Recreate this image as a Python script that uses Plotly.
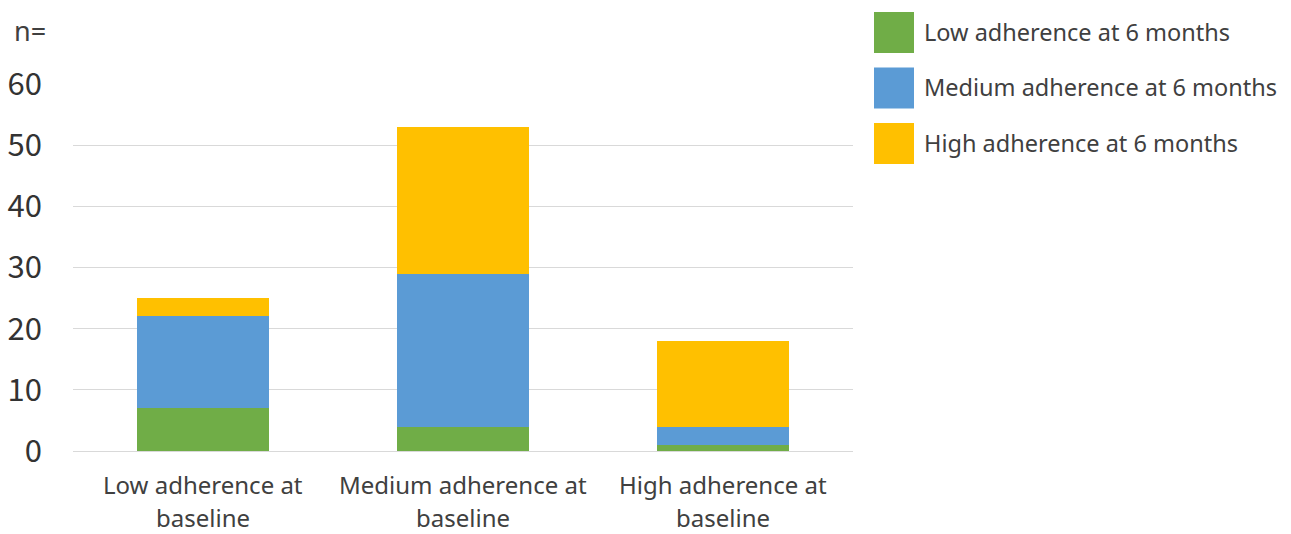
import plotly.graph_objects as go

# Baseline adherence groups (x categories), written as two display lines each
categories = ["Low adherence at baseline", "Medium adherence at baseline", "High adherence at baseline"]
category_lines = [("Low adherence at", "baseline"),
                  ("Medium adherence at", "baseline"),
                  ("High adherence at", "baseline")]

# Counts at 6 months per baseline group
low_6m = [7, 4, 1]
medium_6m = [15, 25, 3]
high_6m = [3, 24, 14]

series_names = ["Low adherence at 6 months", "Medium adherence at 6 months", "High adherence at 6 months"]
series_values = [low_6m, medium_6m, high_6m]
series_colors = ["#70AD47", "#5B9BD5", "#FFC000"]

y_ticks = [0, 10, 20, 30, 40, 50, 60]

CJK = "Noto Sans CJK JP"
SANS = "Noto Sans"
TEXT = "#404040"

# Plot area in pixels: x 73..853, y 84..451
L, R, T, B = 73, 853, 84, 451
W, H = R - L, B - T


def px_x(x):
    return (x - L) / W


def px_y(y):
    return (B - y) / H


fig = go.Figure()
for name, vals, color in zip(series_names, series_values, series_colors):
    fig.add_trace(go.Bar(
        x=categories, y=vals, name=name,
        marker=dict(color=color, line=dict(width=0)),
        showlegend=False,
    ))

# Category labels, two lines under each bar
for cat, (line1, line2) in zip(categories, category_lines):
    for text, yc in ((line1, 484), (line2, 517)):
        fig.add_annotation(xref="x", yref="paper", x=cat, y=px_y(yc),
                           text=text, showarrow=False,
                           xanchor="center", yanchor="middle",
                           font=dict(family=SANS, size=24, color=TEXT))

# Legend drawn as large swatches with labels on the right
for i, (name, color) in enumerate(zip(series_names, series_colors)):
    yc = 32.5 + i * 55.5
    fig.add_shape(type="rect", xref="paper", yref="paper",
                  x0=px_x(874), x1=px_x(914),
                  y0=px_y(yc + 20.5), y1=px_y(yc - 20.5),
                  fillcolor=color, line=dict(width=0))
    fig.add_annotation(xref="paper", yref="paper",
                       x=px_x(922), y=px_y(yc - 1),
                       text=name, showarrow=False, xanchor="left", yanchor="middle",
                       font=dict(family=SANS, size=23.5, color=TEXT))

# Axis unit label
fig.add_annotation(xref="paper", yref="paper",
                   x=px_x(12), y=px_y(30),
                   text="n=", showarrow=False, xanchor="left", yanchor="middle",
                   font=dict(family=SANS, size=27, color=TEXT))

fig.update_layout(
    width=1291, height=534,
    margin=dict(l=L, r=1291 - R, t=T, b=534 - B, autoexpand=False),
    paper_bgcolor="white", plot_bgcolor="white",
    barmode="stack", bargap=0.496,
    font=dict(family=CJK, color=TEXT),
)
fig.update_xaxes(
    showgrid=False, showline=False, zeroline=False, ticks="",
    showticklabels=False, automargin=False,
)
fig.update_yaxes(
    range=[0, 60], tickvals=y_ticks,
    showgrid=True, gridcolor="#D9D9D9", gridwidth=1,
    zeroline=True, zerolinecolor="#D9D9D9", zerolinewidth=1,
    showline=False, ticks="", automargin=False,
    tickfont=dict(family=CJK, size=31, color="#333333"),
    ticklabelstandoff=30,
)

fig.write_html("out.html")
